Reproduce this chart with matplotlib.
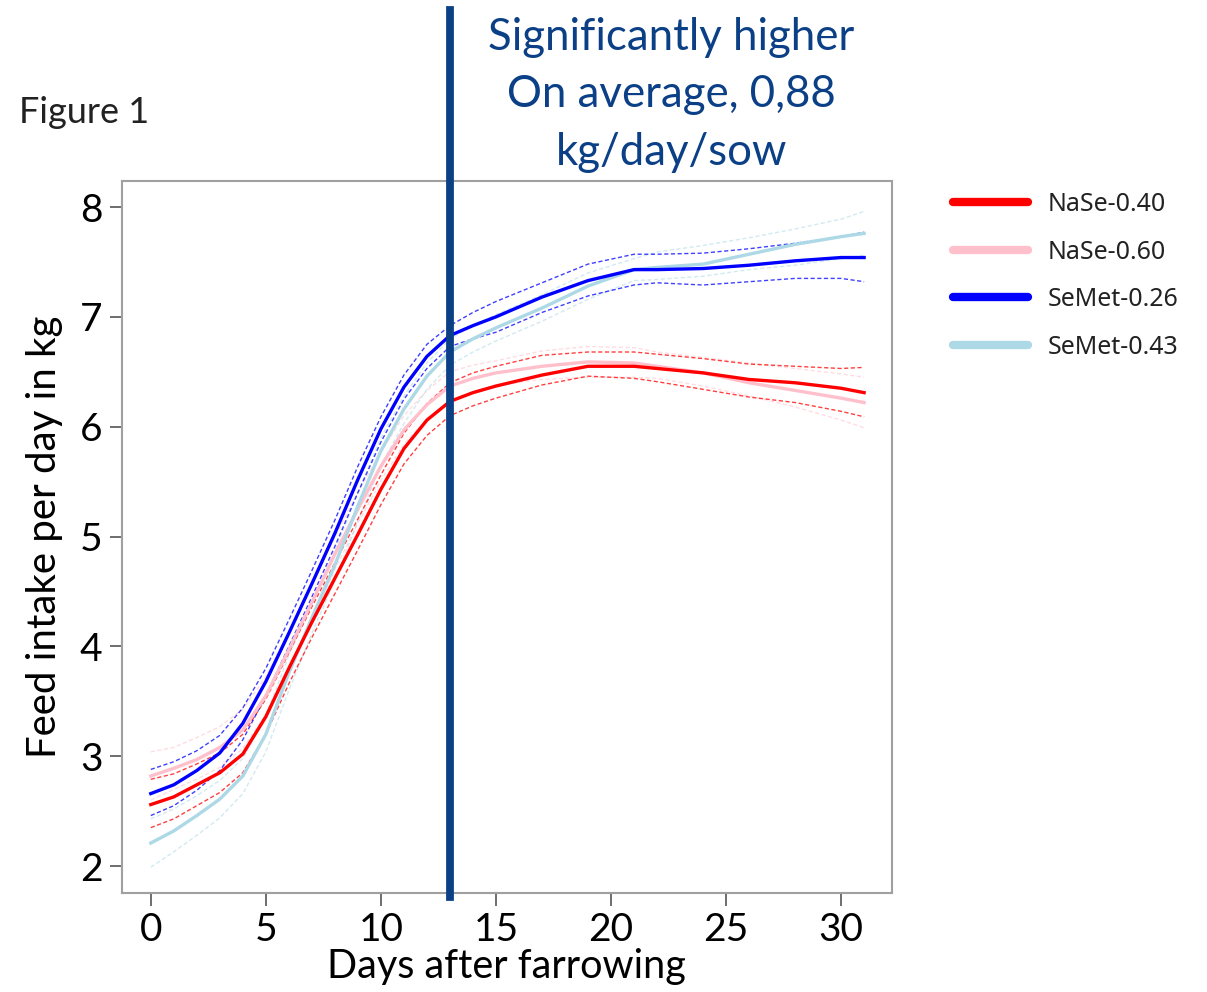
import matplotlib
matplotlib.use("Agg")
import matplotlib.pyplot as plt

days = [0, 1, 2, 3, 4, 5, 6, 7, 8, 9, 10, 11, 12, 13, 14, 15, 17, 19, 21, 22, 24, 26, 28, 30, 31]

nase040 = [2.56, 2.63, 2.74, 2.85, 3.02, 3.36, 3.80, 4.22, 4.62, 5.02, 5.43, 5.80, 6.06, 6.23,
           6.31, 6.37, 6.47, 6.55, 6.55, 6.53, 6.49, 6.43, 6.40, 6.35, 6.31]
nase040_hi = [2.79, 2.84, 2.93, 3.03, 3.20, 3.52, 3.94, 4.36, 4.76, 5.16, 5.56, 5.94, 6.21, 6.40,
              6.49, 6.55, 6.65, 6.68, 6.68, 6.66, 6.62, 6.57, 6.55, 6.53, 6.54]
nase040_lo = [2.35, 2.43, 2.55, 2.67, 2.85, 3.20, 3.66, 4.08, 4.48, 4.88, 5.29, 5.66, 5.92, 6.10,
              6.19, 6.26, 6.38, 6.46, 6.44, 6.41, 6.34, 6.27, 6.22, 6.14, 6.09]

nase060 = [2.82, 2.89, 2.97, 3.08, 3.24, 3.55, 3.97, 4.40, 4.84, 5.25, 5.64, 5.97, 6.20, 6.37,
           6.44, 6.49, 6.55, 6.59, 6.58, 6.55, 6.49, 6.40, 6.33, 6.26, 6.22]
nase060_hi = [3.04, 3.08, 3.17, 3.27, 3.43, 3.72, 4.13, 4.56, 5.00, 5.40, 5.77, 6.10, 6.33, 6.50,
              6.56, 6.60, 6.69, 6.73, 6.72, 6.68, 6.63, 6.58, 6.53, 6.48, 6.45]
nase060_lo = [2.60, 2.70, 2.79, 2.90, 3.07, 3.38, 3.81, 4.24, 4.70, 5.12, 5.51, 5.84, 6.07, 6.24,
              6.32, 6.38, 6.43, 6.45, 6.45, 6.44, 6.37, 6.28, 6.18, 6.06, 5.99]

semet026 = [2.66, 2.74, 2.87, 3.03, 3.30, 3.68, 4.12, 4.57, 5.03, 5.52, 5.98, 6.36, 6.64, 6.83,
            6.92, 7.00, 7.18, 7.33, 7.43, 7.43, 7.44, 7.47, 7.51, 7.54, 7.54]
semet026_hi = [2.88, 2.95, 3.05, 3.19, 3.44, 3.80, 4.24, 4.69, 5.15, 5.64, 6.09, 6.47, 6.75, 6.92,
               7.04, 7.14, 7.31, 7.48, 7.57, 7.57, 7.58, 7.62, 7.67, 7.73, 7.77]
semet026_lo = [2.46, 2.55, 2.69, 2.87, 3.15, 3.55, 4.00, 4.45, 4.91, 5.40, 5.86, 6.25, 6.53, 6.73,
               6.80, 6.86, 7.04, 7.19, 7.29, 7.31, 7.29, 7.32, 7.35, 7.35, 7.32]

semet043 = [2.21, 2.32, 2.46, 2.61, 2.82, 3.20, 3.76, 4.26, 4.74, 5.28, 5.78, 6.16, 6.46, 6.68,
            6.80, 6.90, 7.08, 7.28, 7.43, 7.45, 7.48, 7.57, 7.66, 7.73, 7.76]
semet043_hi = [2.43, 2.52, 2.64, 2.78, 2.98, 3.36, 3.92, 4.40, 4.87, 5.40, 5.90, 6.28, 6.58, 6.80,
               6.92, 7.02, 7.20, 7.40, 7.53, 7.59, 7.65, 7.72, 7.80, 7.89, 7.96]
semet043_lo = [1.99, 2.13, 2.28, 2.44, 2.66, 3.04, 3.60, 4.12, 4.60, 5.14, 5.65, 6.03, 6.34, 6.56,
               6.68, 6.78, 6.96, 7.16, 7.33, 7.34, 7.37, 7.43, 7.47, 7.53, 7.56]

labels = ["NaSe-0.40", "NaSe-0.60", "SeMet-0.26", "SeMet-0.43"]
colors = ["#FF0000", "#FFC0CB", "#0000FF", "#ADD8E6"]
band_alpha = [0.75, 0.55, 0.75, 0.55]

marker_day = 13
note_lines = ["Significantly higher", "On average, 0,88", "kg/day/sow"]
NAVY = "#0B3F86"

plt.rcParams["font.family"] = ["Lato", "DejaVu Sans"]

fig = plt.figure(figsize=(12.07, 9.92), dpi=100)
ax = fig.add_axes([0.1011, 0.0998, 0.6377, 0.7181])

series = [
    (nase040, nase040_hi, nase040_lo),
    (nase060, nase060_hi, nase060_lo),
    (semet026, semet026_hi, semet026_lo),
    (semet043, semet043_hi, semet043_lo),
]
# light colours first so the saturated ones sit on top
for i in [1, 3, 0, 2]:
    mean, hi, lo = series[i]
    for band in (hi, lo):
        ax.plot(days, band, color=colors[i], lw=1.0, ls=(0, (3, 1.8)), alpha=band_alpha[i])
for i in [1, 3, 0, 2]:
    mean, hi, lo = series[i]
    ax.plot(days, mean, color=colors[i], lw=2.4, solid_joinstyle="round")

ax.set_xlim(-1.25, 32.2)
ax.set_ylim(1.755, 8.24)
ax.set_xticks([0, 5, 10, 15, 20, 25, 30])
ax.set_yticks([2, 3, 4, 5, 6, 7, 8])
ax.tick_params(labelsize=28, length=9, width=1.2, color="#555555", pad=5)
for s in ax.spines.values():
    s.set_color("#A0A0A0")
    s.set_linewidth(1.5)
ax.set_xlabel("Days after farrowing", fontsize=28.5, labelpad=0)
ax.set_ylabel("Feed intake per day in kg", fontsize=29, labelpad=12)

ax.axvline(marker_day, ymin=-0.006, ymax=1.24, color=NAVY, lw=5.6, clip_on=False, zorder=5)

for k, line in enumerate(note_lines):
    fig.text(0.556, 0.9627 - k * 0.0582, line, ha="center", va="center",
             fontsize=31.5, color=NAVY)
fig.text(0.016, 0.887, "Figure 1", ha="left", va="center", fontsize=26, color="#222222")

handles = [plt.Line2D([], [], color=c, lw=6, solid_capstyle="round") for c in colors]
leg = ax.legend(handles, labels, loc="upper left", bbox_to_anchor=(0.771, 0.829),
                bbox_transform=fig.transFigure, frameon=False, fontsize=18,
                handlelength=3.0, handletextpad=0.8, labelspacing=0.9)
for t in leg.get_texts():
    t.set_family(["Noto Sans", "DejaVu Sans"])
    t.set_color("#222222")

fig.savefig("out.png", dpi=100)
